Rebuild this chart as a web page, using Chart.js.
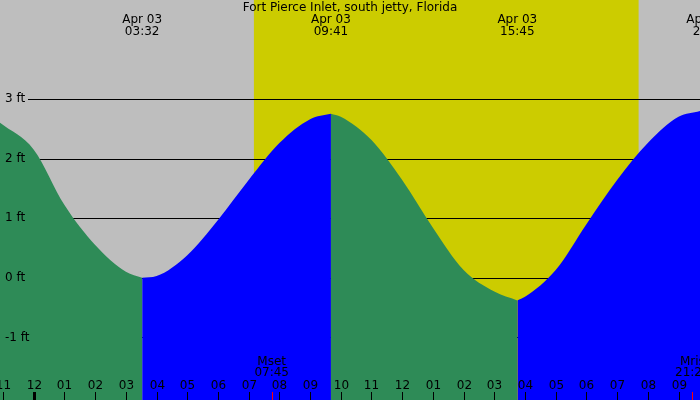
<!DOCTYPE html>
<html>
<head>
<meta charset="utf-8">
<script src="https://cdn.jsdelivr.net/npm/chart.js@4/dist/chart.umd.min.js"></script>
<style>body{margin:0;background:#fff}canvas{display:block}</style>
</head>
<body>
<canvas id="c" width="700" height="400"></canvas>
<script>
// hours since midnight Apr 03, tide height in ft
const fallA_t = [-1.1, 0, 1, 2, 3, 3.53];
const fallA_h = [2.6, 2.15, 1.22, 0.55, 0.1, 0.0];
const riseA_t = [3.53, 4, 5, 6, 7, 8, 9, 9.68];
const riseA_h = [0.0, 0.03, 0.38, 0.97, 1.64, 2.26, 2.66, 2.75];
const fallB_t = [9.68, 10, 11, 12, 13, 14, 15, 15.75];
const fallB_h = [2.75, 2.7, 2.31, 1.64, 0.84, 0.13, -0.23, -0.38];
const riseB_t = [15.75, 16, 17, 18, 19, 20, 21, 21.7];
const riseB_h = [-0.38, -0.32, 0.13, 0.9, 1.64, 2.26, 2.7, 2.8];

const ftTicks = [3, 2, 1, 0, -1];
const hourTicks = [-1, 0, 1, 2, 3, 4, 5, 6, 7, 8, 9, 10, 11, 12, 13, 14, 15, 16, 17, 18, 19, 20, 21];
const sunrise = 7.17, sunset = 19.7;
const extremes = [{t: 3.53, label: '03:32'}, {t: 9.68, label: '09:41'}, {t: 15.75, label: '15:45'}, {t: 21.9, label: '21:5'}];
const moons = [{t: 7.75, name: 'Mset', label: '07:45'}, {t: 21.45, name: 'Mris', label: '21:27'}];

const pts = (ts, hs) => ts.map((t, i) => ({x: t, y: hs[i]}));
const GREEN = '#2e8b57', BLUE = '#0000ff';
const ds = (ts, hs, c) => ({data: pts(ts, hs), borderWidth: 0, pointRadius: 0, fill: 'start',
    backgroundColor: c, borderColor: c, cubicInterpolationMode: 'monotone'});

const decor = {
    id: 'decor',
    beforeDatasetsDraw(chart) {
        const {ctx, scales: {x, y}} = chart;
        ctx.save();
        ctx.fillStyle = '#bebebe';
        ctx.fillRect(0, 0, 700, 400);
        ctx.fillStyle = '#cccc00';
        ctx.fillRect(x.getPixelForValue(sunrise), 0, x.getPixelForValue(sunset) - x.getPixelForValue(sunrise), 400);
        ctx.strokeStyle = '#000';
        ctx.lineWidth = 1;
        ftTicks.forEach(v => {
            const py = Math.round(y.getPixelForValue(v)) + 0.5;
            ctx.beginPath(); ctx.moveTo(28, py); ctx.lineTo(700, py); ctx.stroke();
        });
        ctx.restore();
    },
    afterDatasetsDraw(chart) {
        const {ctx, scales: {x, y}} = chart;
        ctx.save();
        ctx.fillStyle = '#000';
        ctx.font = '12px "DejaVu Sans", sans-serif';
        ctx.textAlign = 'center';
        ctx.textBaseline = 'middle';
        ctx.fillText('Fort Pierce Inlet, south jetty, Florida', 350, 8);
        extremes.forEach(e => {
            const px = x.getPixelForValue(e.t);
            ctx.fillText('Apr 03', px, 20);
            ctx.fillText(e.label, px, 32);
        });
        ctx.textAlign = 'left';
        ftTicks.forEach(v => ctx.fillText(v + ' ft', 5, y.getPixelForValue(v)));
        ctx.textAlign = 'center';
        hourTicks.forEach(h => {
            const px = Math.round(x.getPixelForValue(h)) + 0.5;
            const hh = ((h % 12) + 12) % 12 || 12;
            ctx.fillText(String(hh).padStart(2, '0'), px, 386);
            ctx.fillRect(px - (h === 0 ? 1.5 : 0.5), 392, h === 0 ? 3 : 1, 8);
        });
        moons.forEach(m => {
            const px = x.getPixelForValue(m.t);
            ctx.fillStyle = '#000';
            ctx.fillText(m.name, px, 362);
            ctx.fillText(m.label, px, 373);
            ctx.fillStyle = '#ff0000';
            ctx.fillRect(Math.round(px), 392, 1, 8);
        });
        ctx.restore();
    }
};

new Chart(document.getElementById('c'), {
    type: 'line',
    data: {datasets: [
        ds(fallA_t, fallA_h, GREEN), ds(riseA_t, riseA_h, BLUE),
        ds(fallB_t, fallB_h, GREEN), ds(riseB_t, riseB_h, BLUE)
    ]},
    options: {
        responsive: false, animation: false,
        layout: {padding: 0},
        plugins: {legend: {display: false}, tooltip: {enabled: false}},
        scales: {
            x: {type: 'linear', min: -1.1, max: 21.7, display: false},
            y: {min: -2.05, max: 4.66, display: false}
        }
    },
    plugins: [decor]
});
</script>
</body>
</html>
